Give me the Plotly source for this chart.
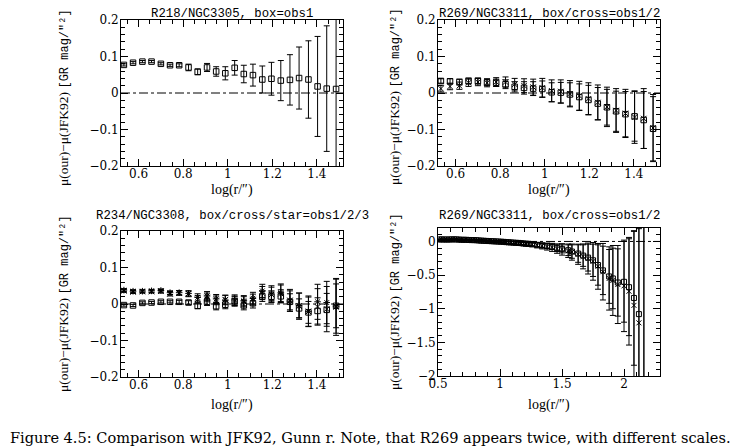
import plotly.graph_objects as go

# ---------------- data ----------------
x_r = [0.534, 0.575, 0.617, 0.658, 0.700, 0.741, 0.782, 0.824, 0.865, 0.907, 0.948, 0.989,
       1.031, 1.072, 1.113, 1.155, 1.196, 1.238, 1.279, 1.320, 1.362, 1.403, 1.444, 1.486]

# Panel 1: R218/NGC3305
p1_box = [0.077, 0.083, 0.086, 0.086, 0.080, 0.076, 0.076, 0.070, 0.058, 0.070, 0.059, 0.054,
          0.069, 0.052, 0.049, 0.037, 0.039, 0.034, 0.036, 0.041, 0.037, 0.018, 0.012, 0.011]
p1_box_err = [0.003, 0.003, 0.003, 0.003, 0.003, 0.003, 0.004, 0.009, 0.008, 0.011, 0.013, 0.018,
              0.020, 0.024, 0.030, 0.037, 0.045, 0.055, 0.069, 0.085, 0.106, 0.137, 0.172, 0.300]

# Panel 2: R269/NGC3311 (small scale)
p2_box = [0.033, 0.032, 0.030, 0.033, 0.033, 0.029, 0.028, 0.024, 0.017, 0.014, 0.012, 0.011,
          0.002, 0.001, -0.004, -0.011, -0.019, -0.029, -0.039, -0.050, -0.058, -0.064, -0.074, -0.098]
p2_box_err = [0.006, 0.007, 0.008, 0.008, 0.008, 0.009, 0.010, 0.012, 0.014, 0.017, 0.019, 0.022,
              0.026, 0.028, 0.032, 0.036, 0.040, 0.044, 0.049, 0.055, 0.062, 0.068, 0.078, 0.088]
p2_cross = [0.012, 0.018, 0.020, 0.028, 0.030, 0.028, 0.030, 0.030, 0.024, 0.020, 0.016, 0.014,
            0.006, 0.004, -0.002, -0.008, -0.016, -0.026, -0.038, -0.048, -0.056, -0.066, -0.070, -0.096]
p2_cross_err = [0.009, 0.009, 0.010, 0.010, 0.010, 0.011, 0.012, 0.014, 0.016, 0.019, 0.022, 0.026,
                0.030, 0.032, 0.036, 0.040, 0.044, 0.048, 0.054, 0.060, 0.066, 0.072, 0.082, 0.092]

# Panel 3: R234/NGC3308
p3_box = [-0.003, -0.004, 0.003, 0.004, 0.006, 0.006, 0.006, 0.004, -0.005, 0.006, -0.006, -0.002,
          0.008, -0.004, 0.002, 0.021, 0.020, 0.021, 0.006, -0.012, -0.023, -0.019, -0.016, -0.005]
p3_box_err = [0.003, 0.003, 0.003, 0.003, 0.003, 0.003, 0.004, 0.005, 0.008, 0.010, 0.010, 0.011,
              0.012, 0.012, 0.013, 0.014, 0.016, 0.018, 0.022, 0.026, 0.030, 0.036, 0.045, 0.060]
p3_cross = [0.036, 0.033, 0.034, 0.034, 0.035, 0.028, 0.030, 0.028, 0.013, 0.018, 0.010, 0.012,
            0.008, 0.006, 0.012, 0.030, 0.026, 0.028, 0.010, -0.006, -0.020, -0.008, -0.014, -0.008]
p3_cross_err = [0.004, 0.004, 0.004, 0.004, 0.005, 0.006, 0.006, 0.008, 0.010, 0.012, 0.012, 0.012,
                0.014, 0.014, 0.015, 0.018, 0.020, 0.024, 0.030, 0.036, 0.042, 0.050, 0.062, 0.078]
p3_star = [0.038, 0.035, 0.035, 0.036, 0.037, 0.031, 0.031, 0.029, 0.018, 0.022, 0.014, 0.011,
           0.011, 0.009, 0.016, 0.036, 0.030, 0.031, 0.008, -0.004, -0.021, 0.006, 0.004, -0.006]
p3_star_err = [0.004, 0.004, 0.004, 0.004, 0.004, 0.005, 0.006, 0.007, 0.010, 0.012, 0.012, 0.013,
               0.014, 0.014, 0.016, 0.018, 0.020, 0.024, 0.028, 0.034, 0.040, 0.048, 0.058, 0.074]

# Panel 4: R269/NGC3311 (large scale)
x4 = [0.51, 0.53, 0.55, 0.57, 0.59, 0.61, 0.63, 0.65, 0.67, 0.69, 0.71, 0.73, 0.75, 0.77, 0.79,
      0.81, 0.83, 0.85, 0.87, 0.89, 0.91, 0.93, 0.95, 0.97, 0.99, 1.01, 1.03, 1.05, 1.07, 1.09,
      1.11, 1.13, 1.15, 1.17, 1.19, 1.21, 1.23, 1.26, 1.30, 1.34, 1.38, 1.42, 1.46, 1.50, 1.55,
      1.58, 1.63, 1.67, 1.71, 1.75, 1.79, 1.83, 1.88, 1.91, 1.95, 2.00, 2.04, 2.08, 2.12, 2.16]
p4_box = [0.030, 0.030, 0.030, 0.028, 0.030, 0.030, 0.032, 0.030, 0.028, 0.025, 0.025, 0.024,
          0.022, 0.020, 0.020, 0.018, 0.015, 0.012, 0.010, 0.008, 0.006, 0.004, 0.002, 0.000,
          -0.002, -0.004, -0.006, -0.010, -0.012, -0.015, -0.018, -0.020, -0.022, -0.025, -0.030,
          -0.033, -0.035, -0.040, -0.050, -0.060, -0.070, -0.080, -0.100, -0.110, -0.130, -0.150,
          -0.180, -0.210, -0.240, -0.280, -0.350, -0.430, -0.520, -0.550, -0.610, -0.600, -0.680,
          -0.840, -1.080, -2.600]
p4_box_err = [0.004, 0.004, 0.004, 0.004, 0.004, 0.004, 0.004, 0.004, 0.005, 0.005, 0.005, 0.005,
              0.006, 0.006, 0.006, 0.007, 0.007, 0.008, 0.008, 0.009, 0.009, 0.010, 0.010, 0.011,
              0.012, 0.012, 0.013, 0.014, 0.015, 0.016, 0.017, 0.018, 0.019, 0.020, 0.021, 0.022,
              0.023, 0.025, 0.028, 0.030, 0.035, 0.040, 0.050, 0.060, 0.080, 0.100, 0.130, 0.160,
              0.200, 0.240, 0.300, 0.360, 0.400, 0.450, 0.500, 0.600, 0.720, 1.000, 1.300, 3.000]
p4_cross = [0.025, 0.026, 0.025, 0.024, 0.026, 0.027, 0.028, 0.027, 0.025, 0.022, 0.022, 0.021,
            0.019, 0.017, 0.017, 0.015, 0.012, 0.009, 0.007, 0.005, 0.003, 0.001, -0.001, -0.003,
            -0.005, -0.007, -0.010, -0.013, -0.016, -0.019, -0.022, -0.025, -0.027, -0.030, -0.035,
            -0.038, -0.040, -0.046, -0.056, -0.066, -0.076, -0.088, -0.106, -0.118, -0.138, -0.158,
            -0.190, -0.222, -0.254, -0.296, -0.370, -0.450, -0.550, -0.580, -0.640, -0.660, -0.740,
            -0.950, -1.210, -2.800]
p4_cross_err = [0.005, 0.005, 0.005, 0.005, 0.005, 0.005, 0.005, 0.005, 0.006, 0.006, 0.006, 0.006,
                0.007, 0.007, 0.007, 0.008, 0.008, 0.009, 0.009, 0.010, 0.010, 0.011, 0.012, 0.013,
                0.014, 0.015, 0.016, 0.017, 0.018, 0.019, 0.020, 0.021, 0.022, 0.024, 0.026, 0.028,
                0.030, 0.034, 0.040, 0.045, 0.052, 0.060, 0.070, 0.085, 0.100, 0.120, 0.150, 0.185,
                0.230, 0.280, 0.340, 0.420, 0.470, 0.520, 0.580, 0.680, 0.800, 1.100, 1.400, 3.200]

# tick labels
xt_small = [0.6, 0.8, 1.0, 1.2, 1.4]
xt_small_txt = ["0.6", "0.8", "1", "1.2", "1.4"]
yt_small = [-0.2, -0.1, 0.0, 0.1, 0.2]
yt_small_txt = ["\u22120.2", "\u22120.1", "0", "0.1", "0.2"]
xt_large = [0.5, 1.0, 1.5, 2.0]
xt_large_txt = ["0.5", "1", "1.5", "2"]
yt_large = [-2.0, -1.5, -1.0, -0.5, 0.0]
yt_large_txt = ["\u22122", "\u22121.5", "\u22121", "\u22120.5", "0"]

titles = ["R218/NGC3305, box=obs1",
          "R269/NGC3311, box/cross=obs1/2",
          "R234/NGC3308, box/cross/star=obs1/2/3",
          "R269/NGC3311, box/cross=obs1/2"]
x_label = "log(r/\u2033)"
y_label = ('<span style="font-family:Liberation Serif;font-size:13.5px">\u03bc(our)\u2212\u03bc(JFK92)</span> '
           '<span style="font-family:Liberation Mono;font-size:12px">[GR mag/\u2033\u00b2]</span>')
caption = ("Figure 4.5: Comparison with JFK92, Gunn r. Note, that R269 appears twice, "
           "with different scales.")

# ---------------- figure ----------------
W, H = 744, 446
OFF = 8  # page offset of the plot div (body margin)
SERIF = "Liberation Serif"
WSERIF = "DejaVu Serif"
MONO = "Liberation Mono"

fig = go.Figure()

MSZ = 5.5


def add(xs, ys, errs, symbol, xa, ya, size=MSZ):
    fig.add_trace(go.Scatter(
        x=xs, y=ys, mode="markers", xaxis=xa, yaxis=ya, showlegend=False,
        marker=dict(symbol=symbol, size=size, color="black",
                    line=dict(color="black", width=1)),
        error_y=dict(type="data", array=errs, visible=True, width=3,
                     thickness=1, color="black"),
        cliponaxis=True))


add(x_r, p1_box, p1_box_err, "square-open", "x", "y")
add(x_r, p2_cross, p2_cross_err, "x-thin-open", "x2", "y2")
add(x_r, p2_box, p2_box_err, "square-open", "x2", "y2")
add(x_r, p3_star, p3_star_err, "asterisk-open", "x3", "y3")
add(x_r, p3_cross, p3_cross_err, "x-thin-open", "x3", "y3")
add(x_r, p3_box, p3_box_err, "square-open", "x3", "y3")
add(x4, p4_cross, p4_cross_err, "x-thin-open", "x4", "y4", 5)
add(x4, p4_box, p4_box_err, "square-open", "x4", "y4", 5)


def px_x(p):
    return (p - OFF) / W


def px_y(p):
    return 1 - (p - OFF) / H


panels = {
    1: dict(x=(121, 343), y=(20, 166)),
    2: dict(x=(438, 660), y=(20, 166)),
    3: dict(x=(121, 343), y=(231, 377)),
    4: dict(x=(438, 660), y=(228, 376)),
}

axis_common = dict(showline=True, linecolor="black", linewidth=1, mirror="ticks",
                   ticks="inside", ticklen=7, tickwidth=1, tickcolor="black",
                   showgrid=False, zeroline=False, automargin=False,
                   tickfont=dict(family=WSERIF, size=12, color="black"))

layout = dict(width=W, height=H, autosize=False,
              margin=dict(l=0, r=0, t=0, b=0, pad=0, autoexpand=False),
              paper_bgcolor="white", plot_bgcolor="white", showlegend=False)

for i in range(1, 5):
    p = panels[i]
    xs = "" if i == 1 else str(i)
    large = (i == 4)
    xaxis = dict(axis_common)
    yaxis = dict(axis_common)
    xaxis.update(domain=[px_x(p["x"][0]), px_x(p["x"][1])], anchor="y" + xs,
                 tickvals=xt_large if large else xt_small,
                 ticktext=xt_large_txt if large else xt_small_txt,
                 range=[0.5, 2.29] if large else [0.521, 1.517],
                 ticklabelstandoff=-3,
                 minor=dict(ticks="inside", ticklen=4, tickcolor="black",
                            dtick=0.1 if large else 0.05, showgrid=False))
    yaxis.update(domain=[px_y(p["y"][1]), px_y(p["y"][0])], anchor="x" + xs,
                 tickvals=yt_large if large else yt_small,
                 ticktext=yt_large_txt if large else yt_small_txt,
                 range=[-2.0, 0.2] if large else [-0.2, 0.2],
                 ticklabelstandoff=-1,
                 minor=dict(ticks="inside", ticklen=4, tickcolor="black",
                            dtick=0.1 if large else 0.02, showgrid=False))
    layout["xaxis" + xs] = xaxis
    layout["yaxis" + xs] = yaxis

fig.update_layout(**layout)

# zero reference lines
for i in range(1, 5):
    xs = "" if i == 1 else str(i)
    fig.add_shape(type="line", xref="x" + xs + " domain", yref="y" + xs,
                  x0=0, x1=1, y0=0, y1=0,
                  line=dict(color="black", width=1, dash="dashdot"))

ann = []
title_pos = [(232, 14), (549, 14), (232, 216), (549, 216)]
for t, (cx, cy) in zip(titles, title_pos):
    ann.append(dict(text=t, x=px_x(cx), y=px_y(cy), xref="paper", yref="paper",
                    xanchor="center", yanchor="middle", showarrow=False,
                    font=dict(family=MONO, size=12.3, color="black")))

xlab_pos = [(232, 190), (549, 190), (232, 405), (549, 405)]
for cx, cy in xlab_pos:
    ann.append(dict(text=x_label, x=px_x(cx), y=px_y(cy), xref="paper", yref="paper",
                    xanchor="center", yanchor="middle", showarrow=False,
                    font=dict(family=SERIF, size=14, color="black")))

ylab_pos = [(64, 98), (395, 97), (64, 304), (395, 302)]
for cx, cy in ylab_pos:
    ann.append(dict(text=y_label, x=px_x(cx), y=px_y(cy), xref="paper", yref="paper",
                    xanchor="center", yanchor="middle", showarrow=False, textangle=-90,
                    font=dict(family=SERIF, size=13.5, color="black")))

ann.append(dict(text=caption, x=px_x(8), y=px_y(437), xref="paper", yref="paper",
                xanchor="left", yanchor="middle", showarrow=False,
                font=dict(family=WSERIF, size=14.55, color="black")))

fig.update_layout(annotations=ann)

fig.write_html("out.html")
